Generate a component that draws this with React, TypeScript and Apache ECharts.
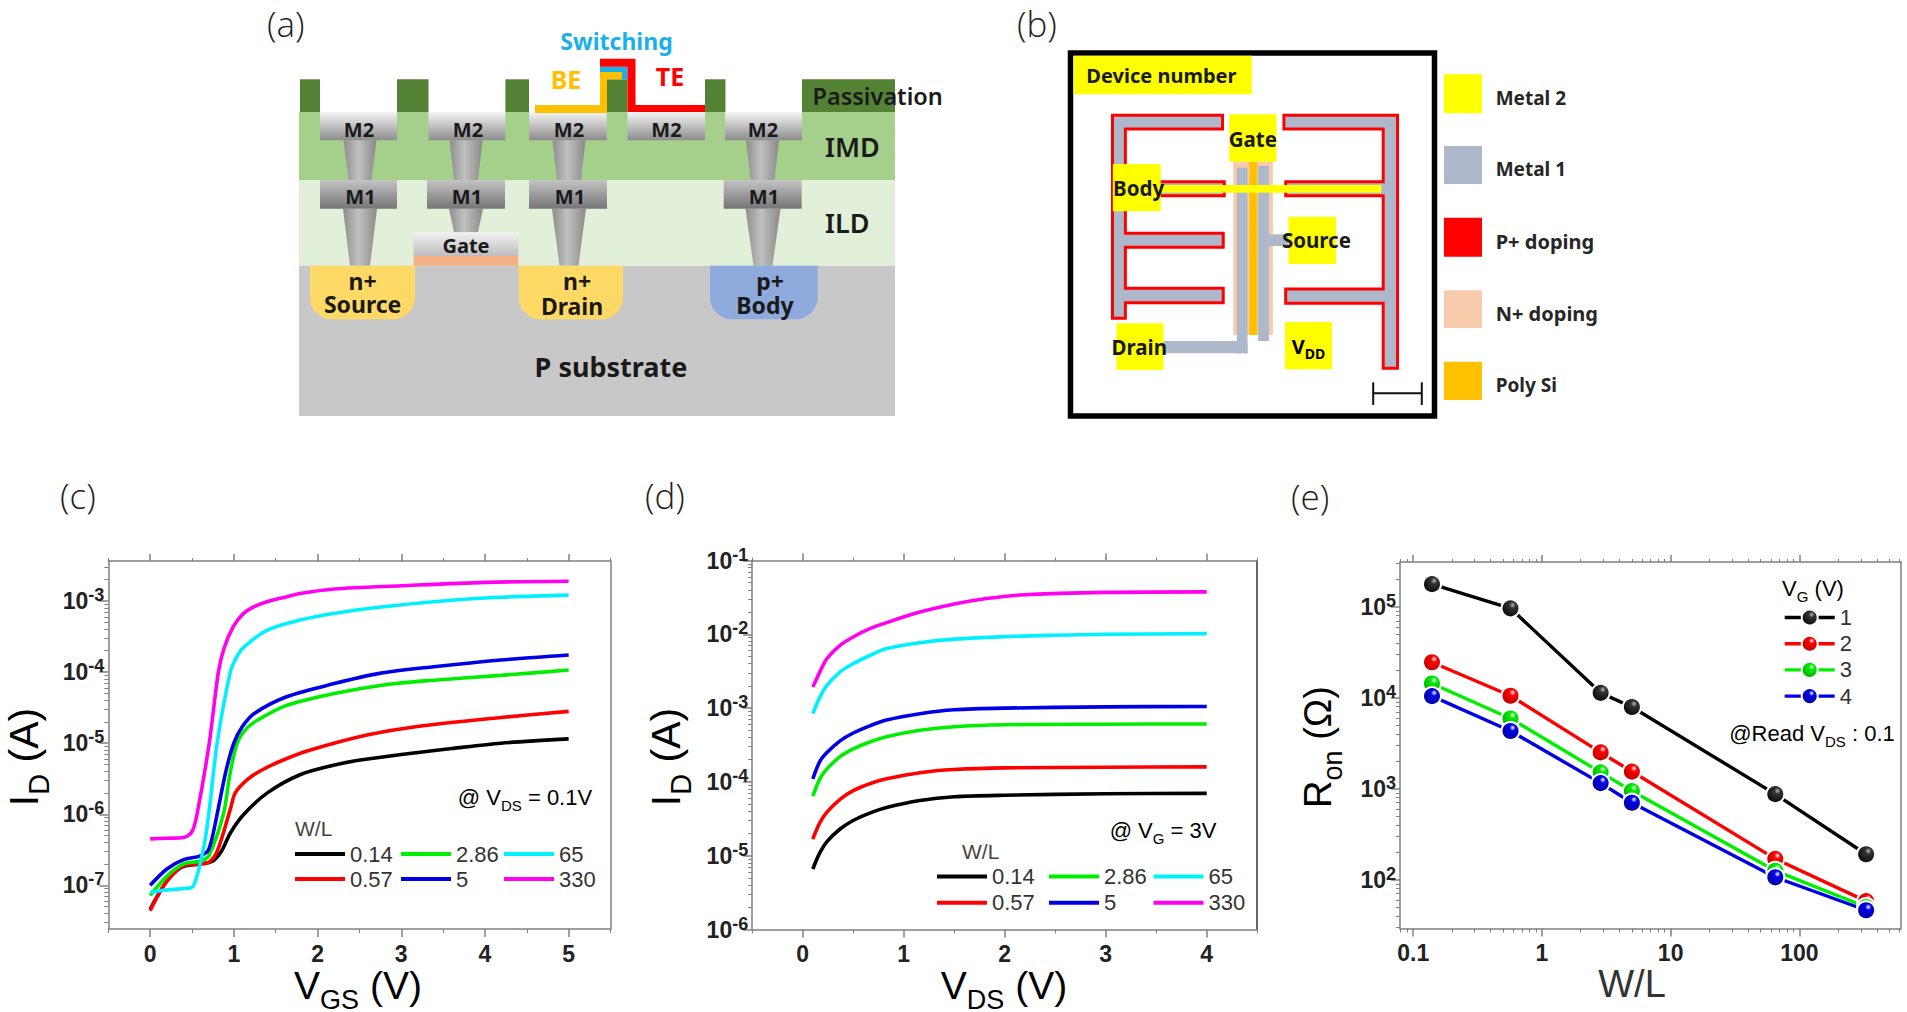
import React, { useEffect, useRef } from "react";
import * as echarts from "echarts";

// ---------- panel (c): I_D vs V_GS, [V, A] ----------
const cW014: [number, number][] = [[0,4.6e-8],[0.1,7.5e-8],[0.2,1.15e-7],[0.3,1.55e-7],[0.4,1.85e-7],[0.6,2e-7],[0.75,2.2e-7],[0.85,3e-7],[0.96,5.5e-7],[1.12,1e-6],[1.4,2e-6],[1.79,3.6e-6],[2.19,4.9e-6],[2.51,5.8e-6],[3,6.95e-6],[3.6,8.4e-6],[4.19,1e-5],[5,1.15e-5]];
const cW057: [number, number][] = [[0,4.4e-8],[0.1,7.5e-8],[0.2,1.15e-7],[0.3,1.55e-7],[0.4,1.9e-7],[0.6,2e-7],[0.7,2.1e-7],[0.8,3e-7],[0.96,1.2e-6],[1.017,2e-6],[1.157,3.05e-6],[1.336,4.2e-6],[1.59,5.8e-6],[1.914,8e-6],[2.59,1.3e-5],[3.19,1.72e-5],[4.19,2.3e-5],[5,2.8e-5]];
const cW286: [number, number][] = [[0,7.2e-8],[0.2,1.35e-7],[0.4,2e-7],[0.6,2.2e-7],[0.7,2.6e-7],[0.875,1e-6],[0.95,3.5e-6],[1.04,1e-5],[1.15,1.6e-5],[1.28,2.1e-5],[1.63,3.4e-5],[2.2,5e-5],[2.79,6.6e-5],[3.39,7.7e-5],[4.19,9e-5],[5,1.07e-4]];
const cW5: [number, number][] = [[0,1e-7],[0.2,1.7e-7],[0.4,2.3e-7],[0.6,2.6e-7],[0.7,3.2e-7],[0.8,1e-6],[0.9,3.8e-6],[1,1e-5],[1.1,1.7e-5],[1.24,2.6e-5],[1.63,4.5e-5],[2.2,6.9e-5],[2.74,9.6e-5],[3.39,1.19e-4],[4.19,1.48e-4],[5,1.74e-4]];
const cW65: [number, number][] = [[0,8e-8],[0.2,8.6e-8],[0.4,9e-8],[0.51,9.6e-8],[0.635,3.2e-7],[0.7,1e-6],[0.8,1e-5],[0.957,1e-4],[1.03,1.6e-4],[1.11,2.2e-4],[1.4,3.9e-4],[1.79,5.4e-4],[2.19,6.7e-4],[2.79,8.3e-4],[3.39,9.8e-4],[4.19,1.13e-3],[5,1.21e-3]];
const cW330: [number, number][] = [[0,4.5e-7],[0.2,4.6e-7],[0.4,4.7e-7],[0.5,5.7e-7],[0.56,1e-6],[0.706,1e-5],[0.815,1e-4],[0.885,2.2e-4],[0.995,4.4e-4],[1.116,6.7e-4],[1.237,8.3e-4],[1.396,9.8e-4],[1.635,1.15e-3],[1.79,1.28e-3],[2.2,1.48e-3],[3,1.64e-3],[4,1.83e-3],[5,1.9e-3]];

// ---------- panel (d): I_D vs V_DS ----------
const dW014: [number, number][] = [[0.1,6.6e-6],[0.17,1.1e-5],[0.24,1.55e-5],[0.37,2.3e-5],[0.5,3e-5],[0.67,3.8e-5],[0.83,4.5e-5],[1.16,5.6e-5],[1.5,6.3e-5],[2,6.6e-5],[3,6.9e-5],[4,7e-5]];
const dW057: [number, number][] = [[0.1,1.68e-5],[0.17,2.8e-5],[0.24,3.9e-5],[0.37,5.8e-5],[0.5,7.6e-5],[0.67,9.5e-5],[0.83,1.1e-4],[1.16,1.33e-4],[1.5,1.47e-4],[2,1.55e-4],[3,1.58e-4],[4,1.6e-4]];
const dW286: [number, number][] = [[0.1,6.4e-5],[0.17,1.1e-4],[0.24,1.5e-4],[0.37,2.2e-4],[0.5,2.8e-4],[0.67,3.5e-4],[0.83,4.1e-4],[1.16,5e-4],[1.5,5.6e-4],[2,5.95e-4],[3,6.05e-4],[4,6.1e-4]];
const dW5: [number, number][] = [[0.1,1.1e-4],[0.17,1.9e-4],[0.24,2.5e-4],[0.37,3.6e-4],[0.5,4.6e-4],[0.67,5.8e-4],[0.83,6.9e-4],[1.16,8.4e-4],[1.5,9.5e-4],[2,1e-3],[3,1.04e-3],[4,1.05e-3]];
const dW65: [number, number][] = [[0.1,8.4e-4],[0.17,1.41e-3],[0.24,2.03e-3],[0.37,3.1e-3],[0.5,4e-3],[0.67,5.2e-3],[0.83,6.4e-3],[1.16,7.7e-3],[1.5,8.6e-3],[2,9.3e-3],[2.5,9.7e-3],[3,1e-2],[4,1.02e-2]];
const dW330: [number, number][] = [[0.1,1.93e-3],[0.17,3.1e-3],[0.24,4.7e-3],[0.37,7.1e-3],[0.5,9.2e-3],[0.67,1.2e-2],[0.83,1.44e-2],[1.16,2e-2],[1.49,2.56e-2],[1.82,3.05e-2],[2.15,3.4e-2],[3,3.7e-2],[4,3.76e-2]];

// ---------- panel (e): R_on vs W/L ----------
const wl = [0.14, 0.57, 2.86, 5, 65, 330];
const ronVg1 = [1.77e5, 9.6e4, 1.13e4, 7.9e3, 870, 190];
const ronVg2 = [2.45e4, 1.05e4, 2.5e3, 1.54e3, 169, 58];
const ronVg3 = [1.43e4, 5.9e3, 1.51e3, 940, 125, 50];
const ronVg4 = [1.04e4, 4.3e3, 1.15e3, 700, 106, 46];

const wlNames = ["0.14", "0.57", "2.86", "5", "65", "330"];
const wlColors = ["#000000", "#ff0000", "#00ee00", "#0000e6", "#00f0ff", "#ff00f0"];
const vgNames = ["1", "2", "3", "4"];
const vgColors = ["#000000", "#ff0000", "#00ee00", "#0000e6"];
const vgDark = ["#000000", "#b00000", "#00a000", "#000090"];

const cMajorY = [1e-7, 1e-6, 1e-5, 1e-4, 1e-3];
const dMajorY = [1e-6, 1e-5, 1e-4, 1e-3, 1e-2, 1e-1];
const eMajorY = [1e2, 1e3, 1e4, 1e5];
const eMajorX = [0.1, 1, 10, 100];
const cMajorX = [0, 1, 2, 3, 4, 5];
const cMinorX = [-0.5, 0.5, 1.5, 2.5, 3.5, 4.5, 5.5];
const dMajorX = [0, 1, 2, 3, 4];
const dMinorX = [-0.5, 0.5, 1.5, 2.5, 3.5, 4.5];

const SANS = "'Liberation Sans', Arial, sans-serif";
const NOTO = "'Noto Sans', sans-serif";
const GRAY = "#808080";

const minorLog = (lo: number, hi: number) => {
  const out: number[] = [];
  for (let e = Math.floor(Math.log10(lo)); e <= Math.ceil(Math.log10(hi)); e++) {
    for (const m of [2, 3, 4, 5, 6, 7, 8, 9]) {
      const v = Number(m + "e" + e);
      if (v >= lo && v <= hi) out.push(v);
    }
  }
  return out;
};

const powLabel = (v: number) => `{b|10}{s|${Math.round(Math.log10(v))}}`;
const powRich = {
  b: { fontFamily: SANS, fontWeight: "bold", fontSize: 23, color: "#222", lineHeight: 30, verticalAlign: "middle" },
  s: { fontFamily: SANS, fontWeight: "bold", fontSize: 18, color: "#222", lineHeight: 30, verticalAlign: "top" },
};

type Plot = {
  left: number; top: number; right: number; bottom: number;
  xType: string; xMin: number; xMax: number; xMajor: number[]; xMinor: number[];
  yMin: number; yMax: number; yMajor: number[]; yMinor: number[];
  rightColor: string; xFmt: (v: number) => string;
};

const plots: Plot[] = [
  { left: 108.3, top: 561, right: 610.5, bottom: 929, xType: "value", xMin: -0.5, xMax: 5.5, xMajor: cMajorX, xMinor: cMinorX,
    yMin: 2.43e-8, yMax: 3.66e-3, yMajor: cMajorY, yMinor: minorLog(2.43e-8, 3.66e-3), rightColor: GRAY, xFmt: (v) => String(v) },
  { left: 752.2, top: 560.5, right: 1257.2, bottom: 929.5, xType: "value", xMin: -0.5, xMax: 4.5, xMajor: dMajorX, xMinor: dMinorX,
    yMin: 1e-6, yMax: 1e-1, yMajor: dMajorY, yMinor: minorLog(1e-6, 1e-1), rightColor: "#333", xFmt: (v) => String(v) },
  { left: 1400, top: 562, right: 1901, bottom: 928.5, xType: "log", xMin: 0.079, xMax: 616, xMajor: eMajorX, xMinor: minorLog(0.079, 616),
    yMin: 29, yMax: 3.1e5, yMajor: eMajorY, yMinor: minorLog(29, 3.1e5), rightColor: GRAY, xFmt: (v) => (v < 1 ? "0.1" : String(Math.round(v))) },
];

const grids = plots.map((p) => ({ left: p.left, top: p.top, width: p.right - p.left, height: p.bottom - p.top, containLabel: false }));

const xAxes: any[] = [];
const yAxes: any[] = [];
plots.forEach((p, i) => {
  const baseX = { gridIndex: i, type: p.xType, min: p.xMin, max: p.xMax, splitLine: { show: false }, minorTick: { show: false } };
  const baseY = { gridIndex: i, type: "log", logBase: 10, min: p.yMin, max: p.yMax, splitLine: { show: false }, minorTick: { show: false } };
  const line = { show: true, onZero: false, lineStyle: { color: GRAY, width: 1.5 } };
  const noLine = { show: false, onZero: false };
  xAxes.push({
    ...baseX, position: "bottom", axisLine: line,
    axisTick: { show: true, customValues: p.xMajor, length: 8, lineStyle: { color: GRAY, width: 1.5 } },
    axisLabel: { show: true, customValues: p.xMajor, formatter: p.xFmt, margin: 13, fontFamily: SANS, fontWeight: "bold", fontSize: 23, color: "#222", hideOverlap: false },
  });
  xAxes.push({ ...baseX, position: "bottom", axisLine: noLine, axisLabel: { show: false },
    axisTick: { show: true, customValues: p.xMinor, length: 4, lineStyle: { color: GRAY, width: 1 } } });
  xAxes.push({ ...baseX, position: "top", axisLine: line, axisLabel: { show: false },
    axisTick: { show: true, customValues: p.xMajor, length: 7, lineStyle: { color: GRAY, width: 1.5 } } });
  xAxes.push({ ...baseX, position: "top", axisLine: noLine, axisLabel: { show: false },
    axisTick: { show: true, customValues: p.xMinor, length: 3, lineStyle: { color: GRAY, width: 1 } } });
  yAxes.push({
    ...baseY, position: "left", axisLine: line,
    axisTick: { show: true, customValues: p.yMajor, length: 9, lineStyle: { color: GRAY, width: 1.5 } },
    axisLabel: { show: true, customValues: p.yMajor, formatter: powLabel, rich: powRich, margin: 4, hideOverlap: false },
  });
  yAxes.push({ ...baseY, position: "left", axisLine: noLine, axisLabel: { show: false },
    axisTick: { show: true, customValues: p.yMinor, length: 4, lineStyle: { color: GRAY, width: 1 } } });
  yAxes.push({ ...baseY, position: "right", axisLine: { show: true, onZero: false, lineStyle: { color: p.rightColor, width: 1.5 } }, axisLabel: { show: false }, axisTick: { show: false } });
});

const curve = (plot: number, k: number, data: [number, number][]) => ({
  type: "line", name: wlNames[k], xAxisIndex: plot * 4, yAxisIndex: plot * 3, data,
  showSymbol: false, symbol: "none", smooth: 0.3, smoothMonotone: "none",
  lineStyle: { color: wlColors[k], width: 3.6 }, itemStyle: { color: wlColors[k] },
});

const ballColor = (k: number) => new echarts.graphic.RadialGradient(0.62, 0.32, 0.78, [
  { offset: 0, color: k === 0 ? "#bbbbbb" : "#ffffff" },
  { offset: 0.22, color: k === 0 ? "#333333" : vgColors[k] },
  { offset: 1, color: vgDark[k] },
]);

const ronSeries = [ronVg1, ronVg2, ronVg3, ronVg4].map((vals, k) => ({
  type: "line", name: vgNames[k], xAxisIndex: 8, yAxisIndex: 6,
  data: vals.map((v, j) => [wl[j], v]),
  symbol: "circle", symbolSize: 18, showSymbol: true,
  lineStyle: { color: vgColors[k], width: 3.4 },
  itemStyle: { color: ballColor(k), borderColor: "#fff", borderWidth: 2 },
}));

const series = [
  ...[cW014, cW057, cW286, cW5, cW65, cW330].map((d, k) => curve(0, k, d)),
  ...[dW014, dW057, dW286, dW5, dW65, dW330].map((d, k) => curve(1, k, d)),
  ...ronSeries,
];

const legendText = { fontFamily: SANS, fontSize: 22, color: "#333" };
const wlLegend = (names: string[], left: number, top: number, gap: number) => ({
  show: true, orient: "vertical", left, top, data: names, icon: "rect", itemWidth: 50, itemHeight: 4, itemGap: gap,
  padding: 0, textStyle: legendText, selectedMode: false,
});

const legends = [
  wlLegend(["0.14", "0.57"], 295, 843, 3),
  wlLegend(["2.86", "5"], 401, 843, 3),
  wlLegend(["65", "330"], 504, 843, 3),
  wlLegend(["0.14", "0.57"], 937, 865.5, 4.3),
  wlLegend(["2.86", "5"], 1049, 865.5, 4.3),
  wlLegend(["65", "330"], 1153.5, 865.5, 4.3),
  { show: true, orient: "vertical", left: 1783, top: 606.5, data: vgNames, itemWidth: 50, itemHeight: 20, itemGap: 4.2, padding: 0,
    textStyle: legendText, selectedMode: false, lineStyle: { width: 3.4 } },
];

// ---------- schematic helpers ----------
const C = {
  pass: "#548235", imd: "#a5d08c", ild: "#e2f0d9", sub: "#c8c8c8", nPlus: "#ffd966", pPlus: "#8faadc",
  be: "#ffc000", sw: "#19b0ea", te: "#ff0000", gateOx: "#f4b183", y: "#ffff00", m1: "#adb9ca", n: "#f8cbad",
};
const V = (a: string, b: string) => new echarts.graphic.LinearGradient(0, 0, 0, 1, [{ offset: 0, color: a }, { offset: 1, color: b }]);
const H = () => new echarts.graphic.LinearGradient(0, 0, 1, 0, [
  { offset: 0, color: "#8e8e8e" }, { offset: 0.45, color: "#c0c0c0" }, { offset: 1, color: "#8a8a8a" },
]);
const rect = (x0: number, y0: number, x1: number, y1: number, fill: any, r?: number[]) => ({
  type: "rect", silent: true, shape: { x: x0, y: y0, width: x1 - x0, height: y1 - y0, ...(r ? { r } : {}) }, style: { fill },
});
const poly = (pts: number[][], fill: any, stroke?: string, lineWidth?: number) => ({
  type: "polygon", silent: true, shape: { points: pts }, style: { fill, stroke, lineWidth },
});
const via = (cx: number, y0: number, y1: number, wTop: number, wBot: number) =>
  poly([[cx - wTop / 2, y0], [cx + wTop / 2, y0], [cx + wBot / 2, y1], [cx - wBot / 2, y1]], H());
const txt = (text: string, x: number, y: number, size: number, color = "#1a1a1a", weight: any = 700, align = "center", family = NOTO) => ({
  type: "text", silent: true, x, y, style: { text, fontSize: size, fontWeight: weight, fontFamily: family, fill: color, align, verticalAlign: "middle" },
});
const rtxt = (text: string, x: number, y: number, rich: any, rotation = 0, align = "center") => ({
  type: "text", silent: true, x, y, rotation, style: { text, rich, align, verticalAlign: "middle" },
});

const panelA: any[] = [
  rect(299, 112, 895, 180, C.imd),
  rect(299, 180, 895, 265.7, C.ild),
  rect(299, 265.7, 895, 416, C.sub),
  ...[[300, 320], [397, 428.5], [505.4, 529], [606.8, 627.5], [705, 725.5], [802, 895]].map(([a, b]) => rect(a, 79.3, b, 112, C.pass)),
  via(360, 140.3, 180, 33, 23), via(466, 140.3, 180, 33, 24), via(569, 140.3, 180, 33, 24), via(762.5, 140.3, 180, 33, 24),
  via(360, 208.7, 265.7, 34, 20), via(466, 208.7, 232.3, 34, 24), via(569, 208.7, 265.7, 34, 19), via(763, 208.7, 265.7, 35, 19),
  ...[[320, 397], [428.5, 505.4], [529, 606.8], [627.5, 705], [725, 802]].map(([a, b]) => rect(a, 112, b, 140.3, V("#f5f5f5", "#8c8c8c"))),
  ...[[320, 397], [427, 505], [529, 607], [723.7, 801.7]].map(([a, b]) => rect(a, 180, b, 208.7, V("#c4c4c4", "#757575"))),
  rect(413.5, 232.3, 518.4, 256, V("#f2f2f2", "#bdbdbd")),
  rect(413.5, 256, 518.4, 265.7, C.gateOx),
  rect(310, 265.7, 415, 319.3, C.nPlus, [0, 0, 22, 22]),
  rect(518.8, 265.7, 623, 319.3, C.nPlus, [0, 0, 22, 22]),
  rect(710, 265.7, 817.7, 319.3, C.pPlus, [0, 0, 22, 22]),
  poly([[535, 105], [600, 105], [600, 72], [622, 72], [622, 79.3], [607, 79.3], [607, 113], [535, 113]], C.be),
  poly([[600, 66.7], [627.5, 66.7], [627.5, 79.3], [622, 79.3], [622, 72], [600, 72]], C.sw),
  poly([[600, 58.7], [635.5, 58.7], [635.5, 105], [705, 105], [705, 112], [627.5, 112], [627.5, 66.7], [600, 66.7]], C.te),
  txt("Switching", 616.5, 41, 23, C.sw),
  txt("BE", 566, 79, 25, C.be),
  txt("TE", 670, 76, 25, C.te),
  txt("Passivation", 812.5, 96, 23.5, "#1a1a1a", 600, "left"),
  txt("IMD", 825, 146.7, 27, "#1a1a1a", 600, "left"),
  txt("ILD", 825, 222.7, 27, "#1a1a1a", 600, "left"),
  txt("M2", 359, 129, 20), txt("M2", 468, 129, 20), txt("M2", 569, 129, 20), txt("M2", 666.5, 129, 20), txt("M2", 763, 129, 20),
  txt("M1", 360.5, 196, 20), txt("M1", 467, 196, 20), txt("M1", 570, 196, 20), txt("M1", 764, 196, 20),
  txt("Gate", 466, 245, 20),
  txt("n+", 362.6, 281, 23), txt("Source", 362.6, 304, 23),
  txt("n+", 577, 281, 23), txt("Drain", 572, 306, 23),
  txt("p+", 770, 281, 23), txt("Body", 765, 305, 23),
  txt("P substrate", 611, 366, 27),
];

const bx = (X: number) => 1060 + X / 2.8;
const by = (Y: number) => 40 + Y / 3;
const bpts = (a: number[][]) => a.map(([X, Y]) => [bx(X), by(Y)]);
const brect = (X0: number, Y0: number, X1: number, Y1: number, fill: any) => rect(bx(X0), by(Y0), bx(X1), by(Y1), fill);

const panelB: any[] = [
  { type: "rect", silent: true, shape: { x: 1070.5, y: 53, width: 364, height: 363 }, style: { fill: "#fff", stroke: "#000", lineWidth: 5.5 } },
  rect(1073.6, 55.7, 1251.8, 94.3, C.y),
  txt("Device number", 1161.4, 75, 20),
  poly(bpts([[147, 226], [455, 226], [455, 267], [183, 267], [183, 425], [460, 425], [460, 467], [183, 467], [183, 580], [457, 580], [457, 622], [183, 622], [183, 745], [457, 745], [457, 788], [183, 788], [183, 835], [147, 835]]), C.m1, C.te, 3),
  poly(bpts([[945, 226], [627, 226], [627, 267], [905, 267], [905, 425], [632, 425], [632, 467], [905, 467], [905, 747], [632, 747], [632, 790], [905, 790], [905, 985], [945, 985]]), C.m1, C.te, 3),
  brect(485, 365, 596, 885, C.n),
  brect(290, 903, 525, 940, C.m1),
  brect(495, 383, 525, 940, C.m1),
  brect(555, 378, 585, 903, C.m1),
  brect(530, 365, 552, 885, C.be),
  brect(585, 583, 640, 618, C.m1),
  brect(282, 435, 900, 458, C.y),
  brect(474, 223, 606, 365, C.y),
  brect(148, 372, 282, 514, C.y),
  brect(640, 530, 773, 672, C.y),
  brect(158, 850, 290, 990, C.y),
  brect(630, 846, 762, 988, C.y),
  txt("Gate", bx(540), by(297), 20.5),
  txt("Body", bx(220), by(443), 20.5),
  txt("Source", bx(718), by(600), 20.5),
  txt("Drain", bx(222), by(922), 20.5),
  rtxt("{v|V}{d|DD}", bx(696), by(918), {
    v: { fontFamily: NOTO, fontWeight: 700, fontSize: 20, color: "#1a1a1a", lineHeight: 28, verticalAlign: "middle" },
    d: { fontFamily: NOTO, fontWeight: 700, fontSize: 14, color: "#1a1a1a", lineHeight: 28, verticalAlign: "bottom" },
  }),
  { type: "line", silent: true, shape: { x1: bx(877), y1: by(1060), x2: bx(1013), y2: by(1060) }, style: { stroke: "#111", lineWidth: 2 } },
  { type: "line", silent: true, shape: { x1: bx(877), y1: by(1027), x2: bx(877), y2: by(1095) }, style: { stroke: "#111", lineWidth: 2 } },
  { type: "line", silent: true, shape: { x1: bx(1013), y1: by(1027), x2: bx(1013), y2: by(1095) }, style: { stroke: "#111", lineWidth: 2 } },
  rect(1444, 74.3, 1482, 113.3, C.y),
  rect(1444, 146, 1482, 184, C.m1),
  rect(1444, 217.7, 1482, 256.7, C.te),
  rect(1444, 290.3, 1482, 328, C.n),
  rect(1444, 361.7, 1482, 400, C.be),
  txt("Metal 2", 1495.7, 97.7, 19, "#262626", 700, "left"),
  txt("Metal 1", 1495.7, 169.3, 19, "#262626", 700, "left"),
  txt("P+ doping", 1495.7, 241.3, 20, "#262626", 700, "left"),
  txt("N+ doping", 1495.7, 313.3, 20, "#262626", 700, "left"),
  txt("Poly Si", 1495.7, 385, 19, "#262626", 700, "left"),
];

const titleRich = (size = 39, sub = 27) => ({
  m: { fontFamily: SANS, fontSize: size, color: "#333", lineHeight: size + 8, verticalAlign: "middle" },
  s: { fontFamily: SANS, fontSize: sub, color: "#444", lineHeight: size + 8, verticalAlign: "bottom", padding: [0, 0, -5, 0] },
});
const noteRich = {
  m: { fontFamily: SANS, fontSize: 22, color: "#444", lineHeight: 26, verticalAlign: "middle" },
  s: { fontFamily: SANS, fontSize: 15, color: "#666", lineHeight: 26, verticalAlign: "bottom", padding: [0, 0, -3, 0] },
};
const panelLabel = (t: string, x: number, y: number) => txt(t, x, y, 35, "#222", 300, "left", "'Open Sans', sans-serif");

const overlay: any[] = [
  panelLabel("(a)", 267, 23), panelLabel("(b)", 1017, 23), panelLabel("(c)", 60, 495), panelLabel("(d)", 645, 495), panelLabel("(e)", 1291, 496),
  rtxt("{m|V}{s|GS}{m| (V)}", 358, 985, titleRich()),
  rtxt("{m|V}{s|DS}{m| (V)}", 1004, 985, titleRich()),
  txt("W/L", 1632, 984, 38, "#333", 400, "center", SANS),
  rtxt("{m|I}{s|D}{m| (A)}", 24, 757, titleRich(41, 29), Math.PI / 2),
  rtxt("{m|I}{s|D}{m| (A)}", 666, 757, titleRich(41, 29), Math.PI / 2),
  rtxt("{m|R}{s|on}{m| (Ω)}", 1318, 747, titleRich(38, 27), Math.PI / 2),
  rtxt("{m|@ V}{s|DS}{m| = 0.1V}", 525, 797, noteRich),
  txt("W/L", 295, 828, 21, "#444", 400, "left", SANS),
  rtxt("{m|@ V}{s|G}{m| = 3V}", 1163, 830, noteRich),
  txt("W/L", 962, 851, 21, "#444", 400, "left", SANS),
  rtxt("{m|V}{s|G}{m| (V)}", 1813, 588, noteRich),
  rtxt("{m|@Read V}{s|DS}{m| : 0.1}", 1812, 733, noteRich),
];

const option: any = {
  animation: false,
  grid: grids,
  xAxis: xAxes,
  yAxis: yAxes,
  legend: legends,
  series,
  graphic: { elements: [...panelA, ...panelB, ...overlay] },
};

export default function App() {
  const ref = useRef<HTMLDivElement>(null);
  useEffect(() => {
    document.body.style.margin = "0";
    const chart = echarts.init(ref.current!, undefined, { renderer: "svg" });
    chart.setOption(option);
    return () => chart.dispose();
  }, []);
  return <div ref={ref} style={{ position: "absolute", left: 0, top: 0, width: 1907, height: 1012, background: "#fff" }} />;
}
